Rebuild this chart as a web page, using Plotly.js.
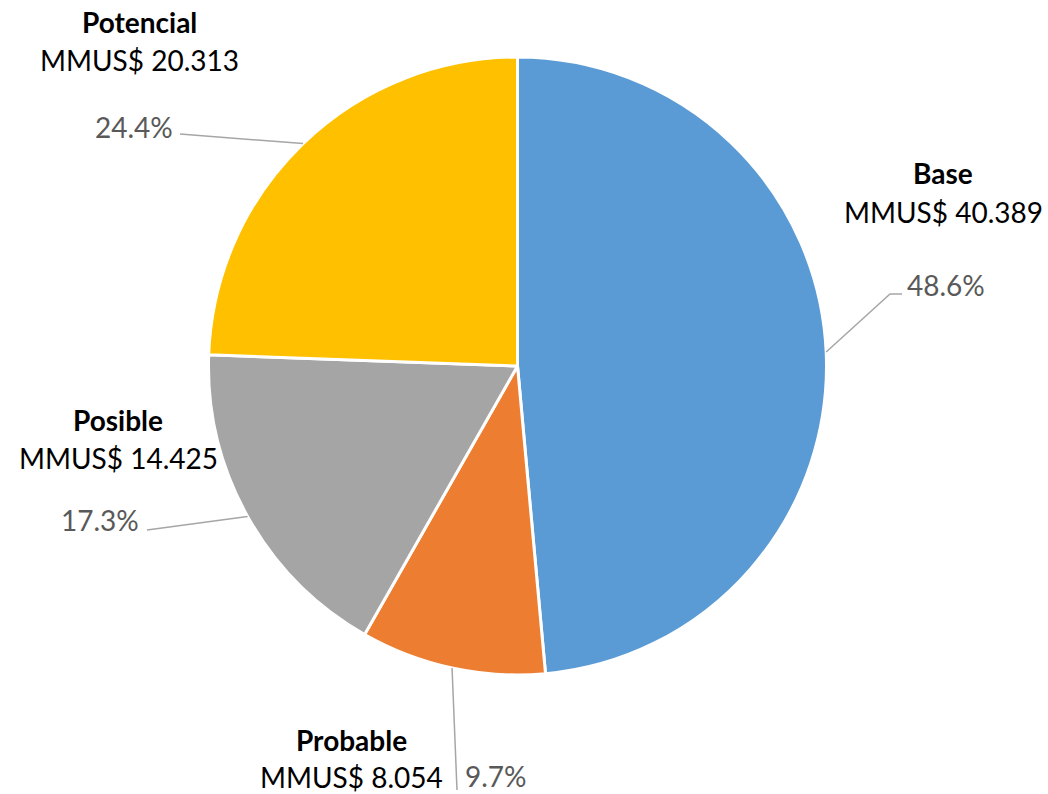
<!DOCTYPE html>
<html>
<head>
<meta charset="utf-8">
<script src="https://cdn.plot.ly/plotly-3.0.1.min.js"></script>
<style>html,body{margin:0;padding:0;background:#fff;}#chart{width:1048px;height:794px;}</style>
</head>
<body>
<div id="chart"></div>
<script>
// ---- data ----
var categories = ["Base", "Probable", "Posible", "Potencial"];
var valuesMMUS = [40.389, 8.054, 14.425, 20.313];
var sliceColors = ["#5B9BD5", "#ED7D31", "#A5A5A5", "#FFC000"];

// ---- layout constants (pixels) ----
var W = 1048, H = 794;
var CX = 517.5, CY = 366, R = 309;
// label placement per slice: name center, value center, percent anchor, leader path points after the edge point
var labelLayout = [
  {name:[943,173], val:[943,212], pct:[905,285,'left'],  path:[[890,294],[902,294]]},
  {name:[351,740], val:[351,777], pct:[463,776,'left'],  path:[[457,790]]},
  {name:[118,420], val:[118,458], pct:[141,520,'right'], path:[[147,530]]},
  {name:[139,22],  val:[139,60],  pct:[175,127,'right'], path:[[180,134]]}
];

function px(x){return x/W;}
function py(y){return 1-y/H;}

var total = valuesMMUS.reduce(function(a,b){return a+b;},0);
var FONT = "Lato, 'Open Sans', sans-serif";
var FS = 28;
var annotations = [], shapes = [];
var cum = 0;
for (var i=0;i<categories.length;i++){
  var frac = valuesMMUS[i]/total;
  var mid = (cum + frac/2)*2*Math.PI; // clockwise from 12 o'clock
  cum += frac;
  var ex = CX + R*Math.sin(mid), ey = CY - R*Math.cos(mid);
  var L = labelLayout[i];
  annotations.push({xref:'paper',yref:'paper',x:px(L.name[0]),y:py(L.name[1]),xanchor:'center',yanchor:'middle',
    text:'<b>'+categories[i]+'</b>',showarrow:false,font:{family:FONT,size:FS,color:'#000000'}});
  annotations.push({xref:'paper',yref:'paper',x:px(L.val[0]),y:py(L.val[1]),xanchor:'center',yanchor:'middle',
    text:'MMUS$ '+valuesMMUS[i].toFixed(3),showarrow:false,font:{family:FONT,size:FS,color:'#000000'}});
  annotations.push({xref:'paper',yref:'paper',x:px(L.pct[0]),y:py(L.pct[1]),xanchor:L.pct[2],yanchor:'middle',
    text:(frac*100).toFixed(1)+'%',showarrow:false,font:{family:FONT,size:FS,color:'#595959'}});
  var d = 'M '+px(ex)+' '+py(ey);
  L.path.forEach(function(p){ d += ' L '+px(p[0])+' '+py(p[1]); });
  shapes.push({type:'path',xref:'paper',yref:'paper',path:d,line:{color:'#A6A6A6',width:1.5}});
}

var trace = {
  type:'pie',
  labels: categories,
  values: valuesMMUS,
  sort:false,
  direction:'clockwise',
  rotation:0,
  marker:{colors:sliceColors,line:{color:'#ffffff',width:3}},
  textinfo:'none',
  hoverinfo:'label+value+percent',
  showlegend:false,
  domain:{x:[px(CX-R),px(CX+R)], y:[py(CY+R),py(CY-R)]}
};

var layout = {
  width:W,height:H,
  margin:{l:0,r:0,t:0,b:0},
  paper_bgcolor:'#ffffff',
  showlegend:false,
  annotations:annotations,
  shapes:shapes
};
Plotly.newPlot('chart',[trace],layout,{displayModeBar:false,staticPlot:true});
</script>
</body>
</html>
